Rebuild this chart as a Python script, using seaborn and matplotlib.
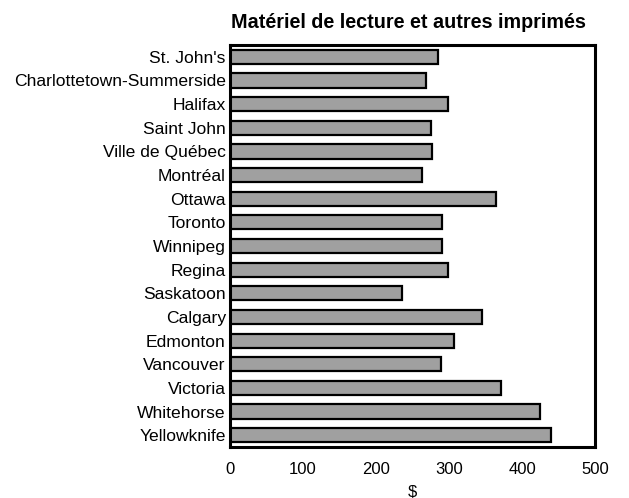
import matplotlib
matplotlib.use("Agg")
import matplotlib.pyplot as plt
import seaborn as sns
import pandas as pd

villes = ["St. John's", "Charlottetown-Summerside", "Halifax", "Saint John",
          "Ville de Québec", "Montréal", "Ottawa", "Toronto", "Winnipeg",
          "Regina", "Saskatoon", "Calgary", "Edmonton", "Vancouver",
          "Victoria", "Whitehorse", "Yellowknife"]
depenses = [285, 268, 298, 275, 277, 263, 364, 291, 291,
            298, 235, 345, 307, 289, 371, 425, 439]
graduations = [0, 100, 200, 300, 400, 500]

sns.set_theme(style="white")
plt.rcParams["font.family"] = ["Liberation Sans", "DejaVu Sans"]

df = pd.DataFrame({"ville": villes, "depense": depenses})

fig = plt.figure(figsize=(6.29, 4.98), dpi=100)
ax = fig.add_axes([0.3657, 0.1024, 0.5803, 0.8072])

sns.barplot(data=df, x="depense", y="ville", orient="h", color="#a0a0a0",
            saturation=1, edgecolor="black", linewidth=1.6, width=0.6, ax=ax)

ax.set_xlim(0, 500)
ax.set_xticks(graduations)
ax.set_xticklabels([str(g) for g in graduations], fontsize=12, color="black")
ax.tick_params(axis="x", direction="in", length=5, width=2, color="black", pad=11)
ax.tick_params(axis="y", length=0, labelsize=12.6, labelcolor="black", pad=3)
ax.set_xlabel("$", fontsize=12, color="black", labelpad=5)
ax.set_ylabel("")

for side, sp in ax.spines.items():
    sp.set_visible(True)
    sp.set_color("black")
    sp.set_linewidth(2.2)

fig.text(0.6486, 0.9444, "Matériel de lecture et autres imprimés",
         ha="center", va="baseline", fontsize=14.2, fontweight="bold", color="black")

fig.savefig("out.png", dpi=100)
